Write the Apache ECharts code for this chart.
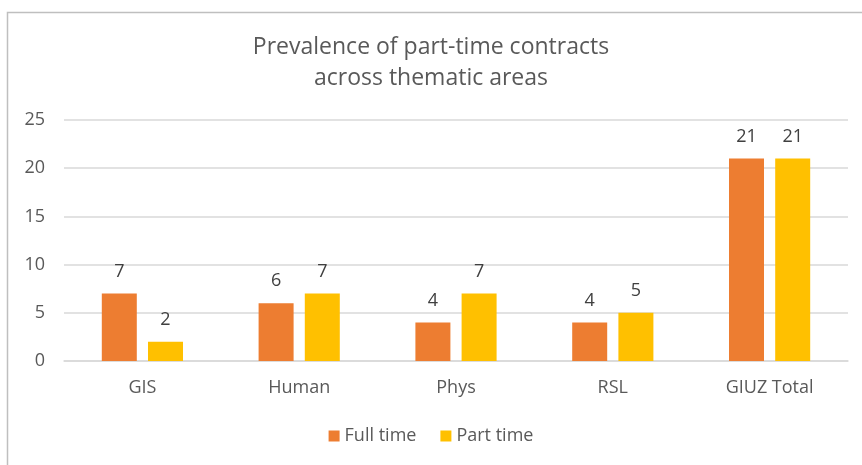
<!DOCTYPE html>
<html>
<head>
<meta charset="utf-8">
<script src="https://cdn.jsdelivr.net/npm/echarts@6/dist/echarts.min.js"></script>
<style>
  html, body { margin: 0; padding: 0; background: #fff; }
  #chart { width: 862px; height: 465px; }
</style>
</head>
<body>
<div id="chart"></div>
<script>
// data
const categories = ['GIS', 'Human', 'Phys', 'RSL', 'GIUZ Total']
const fullTime = [7, 6, 4, 4, 21]
const partTime = [2, 7, 7, 5, 21]
const yTicks = [0, 5, 10, 15, 20, 25]

const chart = echarts.init(document.getElementById('chart'))
const font = '"Open Sans", "Noto Sans", sans-serif'

const barLabel = {
  show: true,
  position: 'top',
  distance: 13,
  color: '#404040',
  fontSize: 18,
  fontFamily: font
}

chart.setOption({
  backgroundColor: '#ffffff',
  animation: false,
  graphic: [{
    type: 'rect',
    shape: { x: 7.5, y: 12.5, width: 900, height: 500 },
    style: { fill: 'none', stroke: '#bfbfbf', lineWidth: 1.5 },
    silent: true
  }],
  title: {
    text: 'Prevalence of part-time contracts\nacross thematic areas',
    left: 'center',
    top: 27,
    textStyle: {
      color: '#595959',
      fontSize: 23,
      fontWeight: 'normal',
      fontFamily: font,
      lineHeight: 31
    }
  },
  legend: {
    bottom: 15,
    left: 'center',
    itemWidth: 11,
    itemHeight: 11,
    itemGap: 24,
    icon: 'rect',
    textStyle: { color: '#595959', fontSize: 18, fontFamily: font }
  },
  grid: { left: 64, right: 14, top: 120, bottom: 104 },
  xAxis: {
    type: 'category',
    data: categories,
    axisLine: { lineStyle: { color: '#d9d9d9', width: 1.5 } },
    axisTick: { show: false },
    axisLabel: { color: '#595959', fontSize: 18, fontFamily: font, margin: 18 }
  },
  yAxis: {
    type: 'value',
    min: yTicks[0],
    max: yTicks[yTicks.length - 1],
    interval: 5,
    axisLine: { show: false },
    axisTick: { show: false },
    splitLine: { lineStyle: { color: '#d9d9d9', width: 1.5 } },
    axisLabel: { color: '#595959', fontSize: 18, fontFamily: font, margin: 19 }
  },
  series: [
    {
      name: 'Full time',
      type: 'bar',
      data: fullTime,
      barWidth: 35,
      barGap: '32%',
      itemStyle: { color: '#ed7d31' },
      label: barLabel
    },
    {
      name: 'Part time',
      type: 'bar',
      data: partTime,
      barWidth: 35,
      itemStyle: { color: '#ffc000' },
      label: barLabel
    }
  ]
})
</script>
</body>
</html>
